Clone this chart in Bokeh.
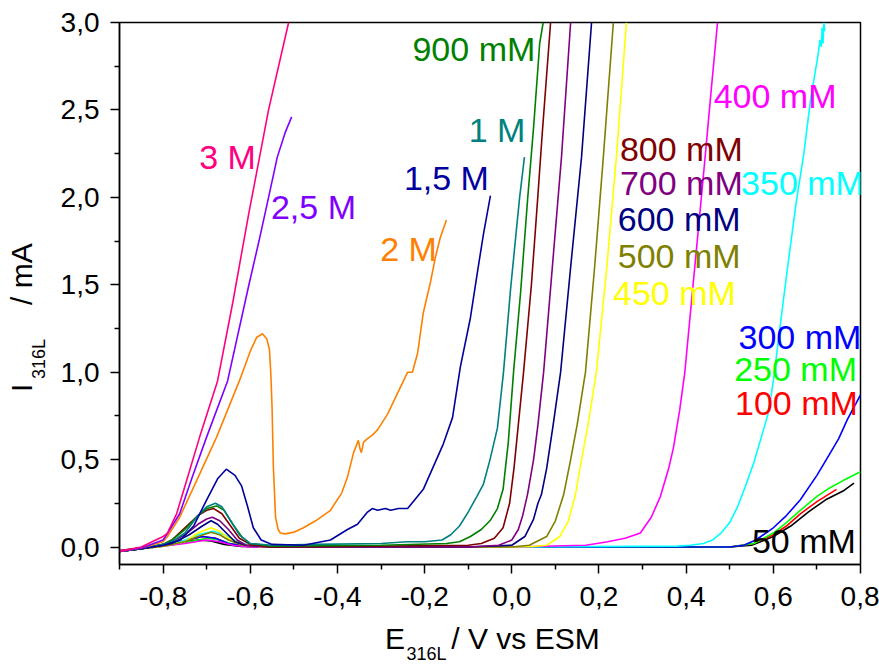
import json
from bokeh.plotting import figure
from bokeh.models import ColumnDataSource, FixedTicker, CustomJSTickFormatter, LinearAxis, Range1d
from bokeh.core.properties import value
from bokeh.embed import file_html
from bokeh.resources import INLINE

FONT = "Liberation Sans"

# ---------------- data ----------------
x_50 = [-0.90, -0.85, -0.80, -0.76, -0.72, -0.69, -0.66, -0.62, -0.55, 0.00, 0.50, 0.55, 0.60, 0.64, 0.68, 0.72, 0.76, 0.785]
y_50 = [-0.02, -0.005, 0.01, 0.025, 0.04, 0.035, 0.015, 0.003, 0.0, 0.0, 0.0, 0.01, 0.06, 0.12, 0.20, 0.27, 0.32, 0.365]

x_100 = [-0.90, -0.85, -0.80, -0.76, -0.71, -0.68, -0.65, -0.61, -0.55, 0.00, 0.50, 0.555, 0.60, 0.63, 0.662, 0.70, 0.745]
y_100 = [-0.025, -0.008, 0.01, 0.03, 0.06, 0.05, 0.02, 0.004, 0.0, 0.0, 0.0, 0.02, 0.07, 0.12, 0.19, 0.26, 0.33]

x_250 = [-0.90, -0.85, -0.80, -0.76, -0.70, -0.67, -0.64, -0.60, -0.55, 0.00, 0.50, 0.555, 0.60, 0.63, 0.662, 0.70, 0.724, 0.76, 0.80]
y_250 = [-0.025, -0.01, 0.005, 0.02, 0.05, 0.04, 0.015, 0.003, 0.0, 0.0, 0.0, 0.02, 0.08, 0.14, 0.21, 0.29, 0.33, 0.38, 0.43]

x_300 = [-0.90, -0.85, -0.80, -0.76, -0.71, -0.68, -0.65, -0.61, -0.55, 0.00, 0.50, 0.532, 0.56, 0.60, 0.63, 0.662, 0.70, 0.724, 0.75, 0.77, 0.80]
y_300 = [-0.025, -0.008, 0.01, 0.03, 0.06, 0.05, 0.02, 0.005, 0.0, 0.0, 0.0, 0.01, 0.04, 0.11, 0.18, 0.27, 0.41, 0.51, 0.62, 0.73, 0.87]

x_350 = [-0.90, -0.85, -0.80, -0.76, -0.72, -0.685, -0.66, -0.63, -0.60, -0.50, 0.00, 0.38, 0.41, 0.44, 0.46, 0.48, 0.50, 0.518, 0.535, 0.555, 0.575, 0.589, 0.60, 0.61, 0.623, 0.638, 0.653, 0.67, 0.685, 0.695, 0.703, 0.707, 0.71, 0.712, 0.714, 0.716, 0.718]
y_350 = [-0.025, -0.01, 0.005, 0.03, 0.07, 0.09, 0.07, 0.03, 0.01, 0.0, 0.0, 0.005, 0.01, 0.02, 0.04, 0.08, 0.14, 0.23, 0.34, 0.48, 0.65, 0.77, 0.95, 1.15, 1.41, 1.70, 1.98, 2.25, 2.55, 2.70, 2.82, 2.90, 2.86, 2.97, 2.88, 3.00, 2.95]

x_400 = [-0.90, -0.85, -0.80, -0.75, -0.70, -0.67, -0.64, -0.60, -0.50, 0.00, 0.17, 0.22, 0.26, 0.295, 0.32, 0.341, 0.36, 0.371, 0.385, 0.397, 0.414, 0.430, 0.445, 0.457, 0.472]
y_400 = [-0.02, -0.01, 0.005, 0.02, 0.04, 0.03, 0.01, 0.0, 0.0, 0.0, 0.01, 0.03, 0.05, 0.08, 0.17, 0.29, 0.45, 0.57, 0.78, 1.00, 1.45, 1.87, 2.27, 2.60, 3.00]

x_450 = [-0.90, -0.85, -0.80, -0.75, -0.72, -0.69, -0.67, -0.65, -0.62, -0.58, -0.50, 0.00, 0.05, 0.08, 0.11, 0.13, 0.146, 0.16, 0.175, 0.194, 0.218, 0.24, 0.263]
y_450 = [-0.025, -0.01, 0.005, 0.03, 0.08, 0.11, 0.09, 0.05, 0.015, 0.003, 0.0, 0.0, 0.003, 0.01, 0.06, 0.15, 0.30, 0.50, 0.70, 1.00, 1.60, 2.23, 3.00]

x_500 = [-0.90, -0.85, -0.80, -0.75, -0.72, -0.69, -0.67, -0.65, -0.62, -0.58, -0.50, 0.00, 0.04, 0.08, 0.10, 0.119, 0.135, 0.15, 0.169, 0.19, 0.21, 0.233]
y_500 = [-0.025, -0.01, 0.005, 0.03, 0.06, 0.085, 0.07, 0.04, 0.012, 0.003, 0.0, 0.0, 0.01, 0.06, 0.15, 0.30, 0.50, 0.70, 1.00, 1.60, 2.23, 3.00]

x_600 = [-0.90, -0.85, -0.80, -0.78, -0.74, -0.71, -0.69, -0.675, -0.655, -0.635, -0.61, -0.55, -0.10, 0.00, 0.03, 0.05, 0.06, 0.068, 0.08, 0.095, 0.112, 0.135, 0.16, 0.183]
y_600 = [-0.025, -0.01, 0.01, 0.02, 0.07, 0.12, 0.15, 0.13, 0.08, 0.03, 0.01, 0.0, 0.0, 0.01, 0.06, 0.16, 0.25, 0.30, 0.45, 0.70, 1.00, 1.60, 2.23, 3.00]

x_700 = [-0.90, -0.85, -0.80, -0.78, -0.75, -0.72, -0.70, -0.687, -0.67, -0.65, -0.63, -0.61, -0.55, -0.10, -0.03, 0.00, 0.015, 0.025, 0.036, 0.05, 0.06, 0.073, 0.093, 0.114, 0.135]
y_700 = [-0.025, -0.01, 0.01, 0.03, 0.07, 0.13, 0.16, 0.17, 0.15, 0.10, 0.04, 0.01, 0.0, 0.0, 0.01, 0.04, 0.10, 0.18, 0.30, 0.50, 0.70, 1.00, 1.60, 2.23, 3.00]

x_800 = [-0.90, -0.85, -0.80, -0.78, -0.75, -0.72, -0.70, -0.684, -0.665, -0.645, -0.625, -0.60, -0.55, -0.10, -0.07, -0.04, -0.02, -0.005, 0.005, 0.015, 0.027, 0.045, 0.059, 0.07, 0.089]
y_800 = [-0.025, -0.01, 0.015, 0.04, 0.11, 0.18, 0.21, 0.22, 0.19, 0.12, 0.05, 0.015, 0.0, 0.01, 0.02, 0.05, 0.11, 0.25, 0.45, 0.70, 1.00, 1.50, 1.98, 2.37, 3.00]

x_900 = [-0.90, -0.85, -0.80, -0.78, -0.75, -0.72, -0.70, -0.677, -0.66, -0.64, -0.62, -0.60, -0.55, -0.30, -0.15, -0.12, -0.095, -0.07, -0.05, -0.033, -0.02, -0.008, 0.004, 0.02, 0.036, 0.05, 0.064, 0.072]
y_900 = [-0.025, -0.01, 0.015, 0.04, 0.10, 0.18, 0.22, 0.235, 0.21, 0.13, 0.06, 0.02, 0.005, 0.01, 0.02, 0.03, 0.06, 0.10, 0.15, 0.22, 0.33, 0.60, 1.00, 1.45, 1.98, 2.40, 2.88, 3.00]

x_1000 = [-0.90, -0.85, -0.80, -0.78, -0.75, -0.72, -0.70, -0.68, -0.665, -0.645, -0.625, -0.60, -0.55, -0.45, -0.30, -0.24, -0.20, -0.16, -0.14, -0.12, -0.10, -0.08, -0.065, -0.05, -0.033, -0.019, -0.003, 0.01, 0.018, 0.029]
y_1000 = [-0.025, -0.01, 0.015, 0.03, 0.08, 0.18, 0.23, 0.25, 0.23, 0.15, 0.07, 0.02, 0.01, 0.015, 0.02, 0.03, 0.03, 0.04, 0.07, 0.12, 0.20, 0.29, 0.36, 0.50, 0.68, 1.00, 1.47, 1.80, 2.00, 2.23]

x_1500 = [-0.90, -0.85, -0.80, -0.76, -0.73, -0.70, -0.675, -0.655, -0.635, -0.62, -0.606, -0.593, -0.575, -0.55, -0.478, -0.416, -0.377, -0.354, -0.331, -0.32, -0.308, -0.29, -0.278, -0.26, -0.239, -0.216, -0.203, -0.18, -0.157, -0.136, -0.118, -0.095, -0.079, -0.065, -0.049]
y_1500 = [-0.025, -0.01, 0.01, 0.04, 0.12, 0.27, 0.39, 0.445, 0.41, 0.35, 0.23, 0.11, 0.04, 0.015, 0.01, 0.04, 0.10, 0.13, 0.20, 0.22, 0.21, 0.22, 0.21, 0.22, 0.22, 0.29, 0.33, 0.46, 0.59, 0.74, 1.03, 1.31, 1.57, 1.79, 2.01]

x_2000 = [-0.90, -0.85, -0.80, -0.79, -0.762, -0.723, -0.677, -0.625, -0.60, -0.585, -0.572, -0.562, -0.556, -0.553, -0.55, -0.547, -0.542, -0.536, -0.531, -0.52, -0.50, -0.478, -0.45, -0.416, -0.39, -0.377, -0.363, -0.352, -0.348, -0.345, -0.34, -0.331, -0.32, -0.308, -0.285, -0.262, -0.239, -0.228, -0.216, -0.203, -0.187, -0.175, -0.164, -0.15]
y_2000 = [-0.025, -0.005, 0.03, 0.06, 0.17, 0.38, 0.63, 0.95, 1.12, 1.20, 1.22, 1.19, 1.13, 1.00, 0.80, 0.46, 0.17, 0.10, 0.08, 0.075, 0.085, 0.11, 0.15, 0.21, 0.31, 0.40, 0.54, 0.61, 0.56, 0.54, 0.60, 0.62, 0.64, 0.67, 0.76, 0.88, 1.00, 1.00, 1.11, 1.34, 1.51, 1.66, 1.77, 1.87]

x_2500 = [-0.90, -0.85, -0.80, -0.792, -0.762, -0.733, -0.70, -0.652, -0.604, -0.58, -0.558, -0.538, -0.52, -0.505]
y_2500 = [-0.025, -0.005, 0.04, 0.07, 0.19, 0.40, 0.63, 0.95, 1.49, 1.75, 2.00, 2.23, 2.37, 2.46]

x_3000 = [-0.90, -0.85, -0.80, -0.79, -0.769, -0.746, -0.716, -0.675, -0.64, -0.604, -0.581, -0.558, -0.512]
y_3000 = [-0.025, 0.0, 0.06, 0.08, 0.19, 0.38, 0.63, 0.95, 1.40, 1.90, 2.20, 2.50, 3.00]

series_colors = ["#000000", "#FF0000", "#00FF00", "#0000FF", "#00FFFF", "#FF00FF", "#FFFF00", "#808000",
                 "#000080", "#800080", "#800000", "#008000", "#008080", "#0000A0", "#FF8000", "#8000FF", "#FF0080"]
series_x = [x_50, x_100, x_250, x_300, x_350, x_400, x_450, x_500, x_600, x_700, x_800, x_900, x_1000, x_1500, x_2000, x_2500, x_3000]
series_y = [y_50, y_100, y_250, y_300, y_350, y_400, y_450, y_500, y_600, y_700, y_800, y_900, y_1000, y_1500, y_2000, y_2500, y_3000]

# in-plot curve labels
label_text = ["3 M", "2,5 M", "2 M", "1,5 M", "1 M", "900 mM", "800 mM", "700 mM", "600 mM", "500 mM",
              "450 mM", "400 mM", "350 mM", "300 mM", "250 mM", "100 mM", "50 mM"]
label_x = [-0.652, -0.455, -0.237, -0.150, -0.034, -0.087, 0.389, 0.389, 0.384, 0.384,
           0.373, 0.604, 0.667, 0.661, 0.651, 0.653, 0.670]
label_y = [2.229, 1.943, 1.703, 2.109, 2.383, 2.846, 2.274, 2.080, 1.874, 1.663,
           1.451, 2.577, 2.080, 1.200, 1.017, 0.823, 0.034]
label_color = ["#FF0080", "#8000FF", "#FF8000", "#0000A0", "#008080", "#008000", "#800000", "#800080", "#000080", "#808000",
               "#FFFF00", "#FF00FF", "#00FFFF", "#0000FF", "#00FF00", "#FF0000", "#000000"]

x_major = [-0.8, -0.6, -0.4, -0.2, 0.0, 0.2, 0.4, 0.6, 0.8]
x_minor = [-0.9, -0.7, -0.5, -0.3, -0.1, 0.1, 0.3, 0.5, 0.7]
y_major = [0.0, 0.5, 1.0, 1.5, 2.0, 2.5, 3.0]
y_minor = [0.25, 0.75, 1.25, 1.75, 2.25, 2.75]

# axis titles, split into main text and subscript parts
xtitle_main = ["E", "/ V vs ESM"]
xtitle_sub = ["316L"]
ytitle_main = ["I", "/ mA"]
ytitle_sub = ["316L"]

# ---------------- layout geometry ----------------
X0, X1, Y0, Y1 = -0.9, 0.8, -0.1, 3.0
FL, FT, FW, FH = 119, 22, 741, 543          # frame left/top/width/height in page px
W, H = 879, 666

def px_x(px):   # page px -> data x (for placing title pieces)
    return X0 + (px - FL) / FW * (X1 - X0)

def px_y(py):   # page px -> data y
    return Y0 + (FT + FH - py) / FH * (Y1 - Y0)

xtitle_main_pos = [px_x(394.5), px_x(525)]
xtitle_sub_pos = [px_x(426)]
ytitle_main_pos = [px_y(388), px_y(274)]
ytitle_sub_pos = [px_y(359)]

p = figure(width=W, height=H, output_backend="svg", toolbar_location=None,
           x_range=Range1d(X0, X1), y_range=Range1d(Y0, Y1),
           min_border_left=FL, min_border_right=W - FL - FW, min_border_top=FT,
           min_border_bottom=H - FT - FH)
p.xgrid.visible = False
p.ygrid.visible = False
p.outline_line_color = "black"
p.outline_line_width = 1.5
p.background_fill_color = "white"
p.border_fill_color = "white"

for xs, ys, c in zip(series_x, series_y, series_colors):
    p.line(xs, ys, line_color=c, line_width=1.6)

src = ColumnDataSource(dict(x=label_x, y=label_y, text=label_text, color=label_color))
p.text(x="x", y="y", text="text", text_color="color", source=src,
       text_font=value(FONT), text_font_size=value("34px"),
       text_align="center", text_baseline="middle")

fmt = CustomJSTickFormatter(code="return tick.toFixed(1).replace('.', ',');")
for ax, maj, mnr, stand in ((p.xaxis[0], x_major, x_minor, 13), (p.yaxis[0], y_major, y_minor, 11)):
    ax.ticker = FixedTicker(ticks=maj, minor_ticks=mnr)
    ax.formatter = fmt
    ax.major_label_text_font = FONT
    ax.major_label_text_font_size = "28px"
    ax.major_label_text_color = "black"
    ax.axis_line_width = 1.5
    ax.axis_line_color = "black"
    ax.major_tick_line_width = 1.5
    ax.minor_tick_line_width = 1.5
    ax.major_tick_line_color = "black"
    ax.minor_tick_line_color = "black"
    ax.major_tick_in = 0
    ax.major_tick_out = 9
    ax.minor_tick_in = 0
    ax.minor_tick_out = 5
    ax.major_label_standoff = stand


def title_axis(pos, texts, size, standoff, orientation="horizontal"):
    code = ("const T = %s; const L = %s;"
            "for (let i = 0; i < T.length; i++) { if (Math.abs(tick - T[i]) < 1e-6) return L[i]; }"
            "return '';") % (json.dumps(pos), json.dumps(texts))
    ax = LinearAxis(ticker=FixedTicker(ticks=sorted(pos)),
                    formatter=CustomJSTickFormatter(code=code),
                    axis_line_color=None, major_tick_line_color=None, minor_tick_line_color=None,
                    major_tick_in=0, major_tick_out=0, minor_tick_in=0, minor_tick_out=0,
                    major_label_standoff=standoff, major_label_orientation=orientation,
                    major_label_text_font=FONT, major_label_text_font_size=size,
                    major_label_text_color="black")
    return ax

# x title: subscript panel first (closer to the axis), then the main text
p.add_layout(title_axis(xtitle_sub_pos, xtitle_sub, "18px", 35), "below")
p.add_layout(title_axis(xtitle_main_pos, xtitle_main, "30px", -45), "below")
# y title: subscript closer to axis, main text further out (rotated)
p.add_layout(title_axis(ytitle_sub_pos, ytitle_sub, "18px", 8, "vertical"), "left")
p.add_layout(title_axis(ytitle_main_pos, ytitle_main, "30px", -12, "vertical"), "left")

open("out.html", "w").write(file_html(p, INLINE))
